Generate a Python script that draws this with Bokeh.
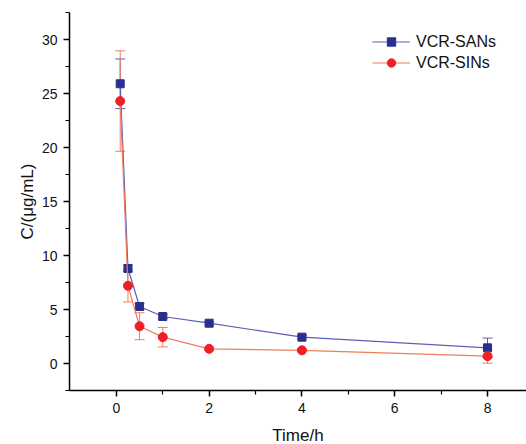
import math
from bokeh.plotting import figure
from bokeh.models import (ColumnDataSource, Whisker, TeeHead, Legend, LegendItem,
                          FixedTicker, Title)
from bokeh.embed import file_html
from bokeh.resources import INLINE

# ---- data ----
time_h = [0.083, 0.25, 0.5, 1, 2, 4, 8]
sans_mean = [25.9, 8.8, 5.28, 4.35, 3.73, 2.44, 1.45]
sans_err = [2.3, 0.3, 0.3, 0.2, 0.15, 0.15, 0.9]
sins_mean = [24.3, 7.2, 3.45, 2.44, 1.36, 1.22, 0.68]
sins_err = [4.65, 1.5, 1.25, 0.9, 0.1, 0.1, 0.65]
x_ticks = [0, 2, 4, 6, 8]
y_ticks = [0, 5, 10, 15, 20, 25, 30]
series_names = ["VCR-SANs", "VCR-SINs"]

FONT = "Liberation Sans"

p = figure(frame_width=457, frame_height=378, output_backend="svg",
           toolbar_location=None, x_range=(-1.01, 8.84), y_range=(-2.5, 32.5),
           min_border_left=69, min_border_right=0, min_border_top=12,
           min_border_bottom=40)
p.outline_line_color = None
p.xgrid.grid_line_color = None
p.ygrid.grid_line_color = None
p.background_fill_color = "white"
p.border_fill_color = "white"

for ax in (p.xaxis[0], p.yaxis[0]):
    ax.axis_line_color = "black"
    ax.axis_line_width = 1.5
    ax.major_tick_line_color = "black"
    ax.minor_tick_line_color = "black"
    ax.major_tick_line_width = 1.5
    ax.minor_tick_line_width = 1.2
    ax.major_tick_out = 6
    ax.major_tick_in = 0
    ax.minor_tick_out = 4
    ax.minor_tick_in = 0
    ax.major_label_text_font = FONT
    ax.major_label_text_font_size = "14px"
    ax.major_label_text_color = "#111111"
    ax.axis_label_text_font = FONT
    ax.axis_label_text_font_size = "17px"
    ax.axis_label_text_font_style = "normal"
    ax.axis_label_text_color = "#111111"

p.xaxis[0].ticker = FixedTicker(ticks=x_ticks, minor_ticks=[1, 3, 5, 7])
p.yaxis[0].ticker = FixedTicker(ticks=y_ticks,
                                minor_ticks=[-2.5 + 5 * i for i in range(8)])
p.xaxis[0].major_label_standoff = 6
p.yaxis[0].major_label_standoff = 6
p.xaxis[0].axis_label = "Time/h"
p.xaxis[0].axis_label_standoff = 10

ytitle = Title(text="C/(\u03bcg/mL)", align="center", offset=-26,
               text_font=FONT, text_font_size="17px", text_font_style="normal",
               text_color="#111111", standoff=4)
p.add_layout(ytitle, "left")

blue_line = "#5b5fb5"
blue_mark = "#2a2f8e"
red_line = "#f27b5c"
red_mark = "#ee1f25"

src_a = ColumnDataSource(dict(x=time_h, y=sans_mean,
                              lo=[m - e for m, e in zip(sans_mean, sans_err)],
                              hi=[m + e for m, e in zip(sans_mean, sans_err)]))
src_b = ColumnDataSource(dict(x=time_h, y=sins_mean,
                              lo=[m - e for m, e in zip(sins_mean, sins_err)],
                              hi=[m + e for m, e in zip(sins_mean, sins_err)]))

wa = Whisker(source=src_a, base="x", lower="lo", upper="hi", line_color=blue_line,
             line_width=1,
             upper_head=TeeHead(size=10, line_color=blue_line, line_width=1),
             lower_head=TeeHead(size=10, line_color=blue_line, line_width=1))
wb = Whisker(source=src_b, base="x", lower="lo", upper="hi", line_color=red_line,
             line_width=1,
             upper_head=TeeHead(size=10, line_color=red_line, line_width=1),
             lower_head=TeeHead(size=10, line_color=red_line, line_width=1))
p.add_layout(wa)
p.add_layout(wb)

la = p.line("x", "y", source=src_a, line_color=blue_line, line_width=1.2)
sa = p.scatter("x", "y", source=src_a, marker="square", size=8,
               fill_color=blue_mark, line_color=blue_mark)
lb = p.line("x", "y", source=src_b, line_color=red_line, line_width=1.2)
sb = p.scatter("x", "y", source=src_b, marker="circle", size=9,
               fill_color=red_mark, line_color=red_mark)

legend = Legend(items=[LegendItem(label=series_names[0], renderers=[la, sa]),
                       LegendItem(label=series_names[1], renderers=[lb, sb])],
                location=(303, 317), border_line_color=None,
                background_fill_alpha=0, padding=0, margin=0, spacing=0,
                glyph_width=38, glyph_height=21, label_height=21,
                label_standoff=6, label_text_font=FONT,
                label_text_font_size="16px", label_text_color="#111111")
p.add_layout(legend)

open("out.html", "w").write(file_html(p, INLINE))
